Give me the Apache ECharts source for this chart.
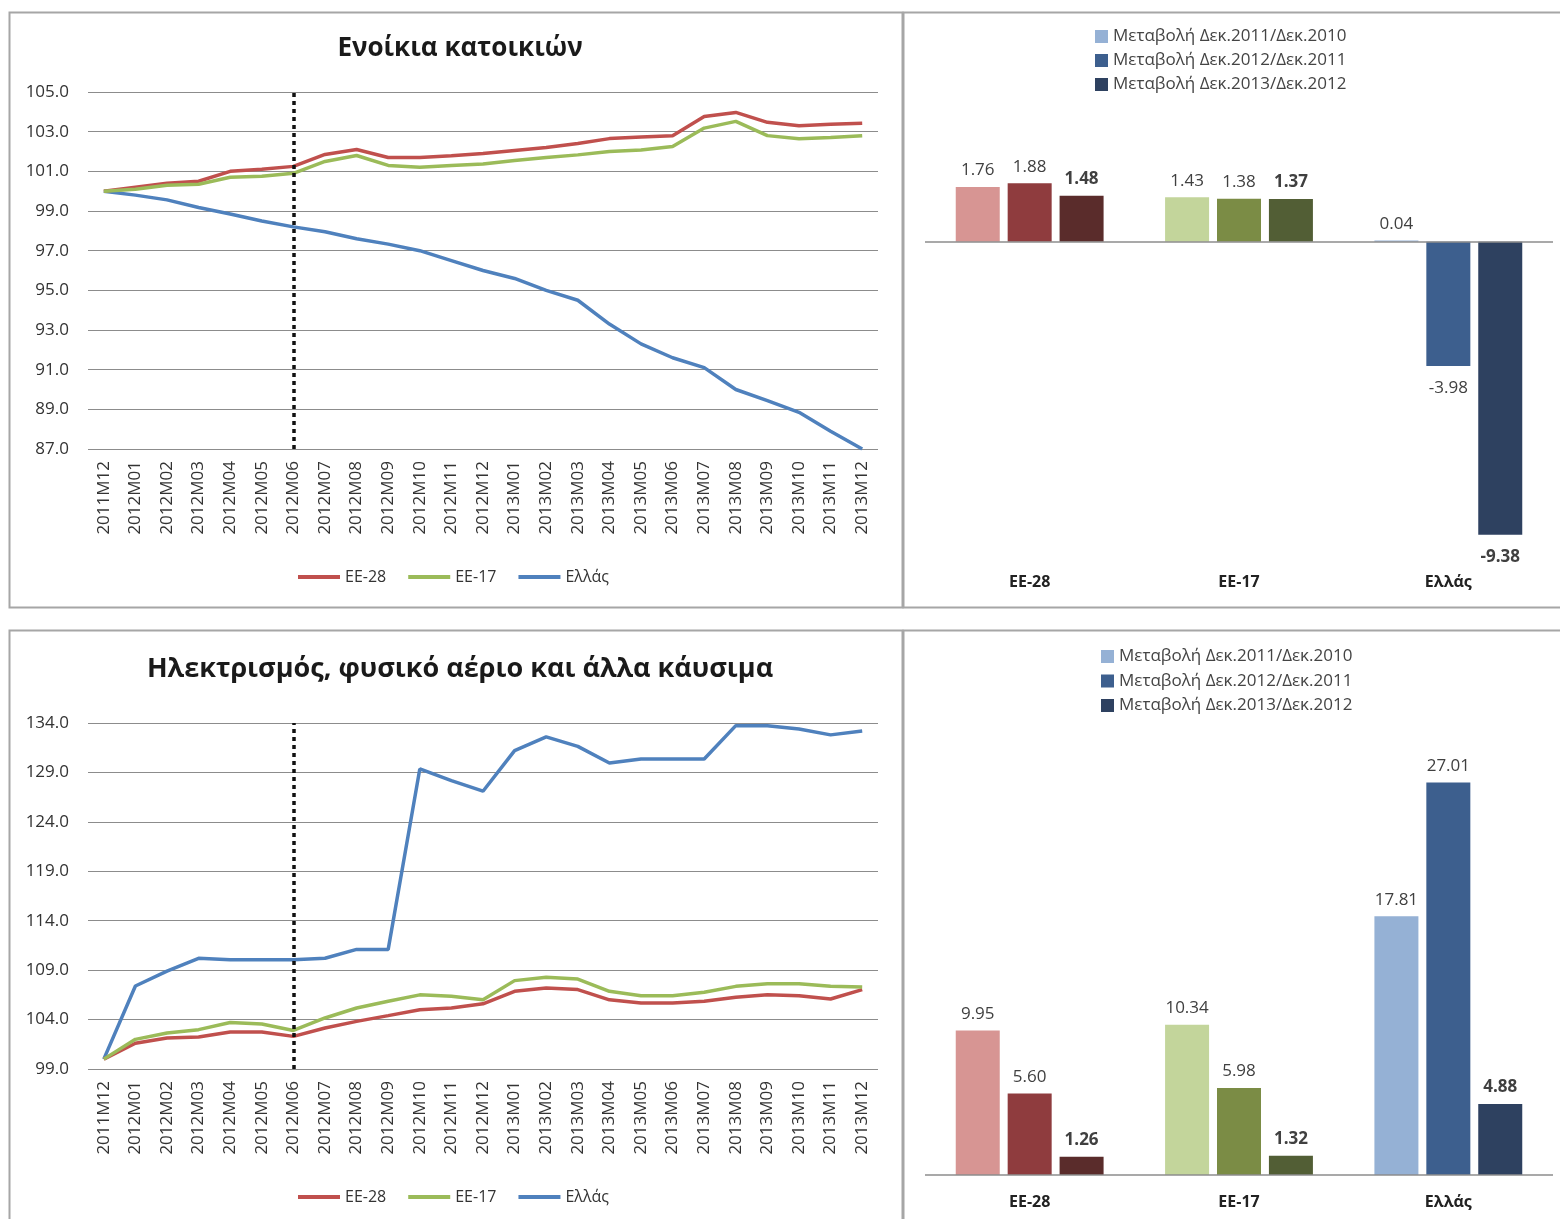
<!DOCTYPE html>
<html>
<head>
<meta charset="utf-8">
<script src="https://cdn.jsdelivr.net/npm/echarts@6/dist/echarts.min.js"></script>
<style>
  html, body { margin: 0; padding: 0; background: #fff; }
  #main { width: 1560px; height: 1219px; }
</style>
</head>
<body>
<div id="main"></div>
<script>
// μήνες
var months = ['2011M12','2012M01','2012M02','2012M03','2012M04','2012M05','2012M06','2012M07','2012M08','2012M09','2012M10','2012M11','2012M12',
  '2013M01','2013M02','2013M03','2013M04','2013M05','2013M06','2013M07','2013M08','2013M09','2013M10','2013M11','2013M12'];

// Ενοίκια κατοικιών
var rentEU28 = [100.0,100.2,100.4,100.5,101.0,101.1,101.25,101.85,102.1,101.7,101.7,101.78,101.9,102.05,102.2,102.4,102.65,102.73,102.8,103.77,103.97,103.47,103.3,103.38,103.43];
var rentEU17 = [100.0,100.1,100.3,100.35,100.7,100.75,100.9,101.5,101.8,101.3,101.2,101.3,101.37,101.55,101.7,101.83,102.0,102.08,102.25,103.18,103.52,102.8,102.64,102.7,102.8];
var rentGR   = [100.0,99.8,99.56,99.18,98.85,98.5,98.2,97.95,97.6,97.33,97.0,96.5,96.0,95.6,95.0,94.5,93.3,92.3,91.6,91.1,90.0,89.44,88.85,87.9,87.0];

// Ηλεκτρισμός, φυσικό αέριο και άλλα καύσιμα
var fuelEU28 = [100.0,101.6,102.14,102.24,102.75,102.75,102.3,103.15,103.82,104.4,105.0,105.17,105.6,106.86,107.2,107.03,106.0,105.68,105.68,105.85,106.25,106.5,106.42,106.08,107.03];
var fuelEU17 = [100.0,102.0,102.65,102.98,103.7,103.55,102.9,104.16,105.17,105.85,106.5,106.35,106.0,107.94,108.27,108.1,106.86,106.42,106.42,106.76,107.36,107.63,107.63,107.36,107.3];
var fuelGR   = [100.0,107.4,108.9,110.2,110.06,110.06,110.06,110.2,111.1,111.1,129.35,128.17,127.1,131.2,132.6,131.64,129.95,130.36,130.36,130.36,133.73,133.73,133.4,132.8,133.2];

// μεταβολές (ΕΕ-28, ΕΕ-17, Ελλάς)
var areas = ['ΕΕ-28','ΕΕ-17','Ελλάς'];
var periods = ['Μεταβολή Δεκ.2011/Δεκ.2010','Μεταβολή Δεκ.2012/Δεκ.2011','Μεταβολή Δεκ.2013/Δεκ.2012'];
var rentChange = [[1.76,1.43,0.04],[1.88,1.38,-3.98],[1.48,1.37,-9.38]];
var fuelChange = [[9.95,10.34,17.81],[5.60,5.98,27.01],[1.26,1.32,4.88]];

var lineNames = ['ΕΕ-28','ΕΕ-17','Ελλάς'];
var lineColors = ['#C0504D','#9BBB59','#4F81BD'];
var barColors = [
  ['#D79593','#C3D59B','#95B1D5'],
  ['#8F3C3E','#7B8C45','#3D5F8E'],
  ['#5A2C2B','#525E35','#2E4160']
];
var legendColors = ['#95B1D5','#3D5F8E','#2E4160'];
var FONT = 'Open Sans';

var myChart = echarts.init(document.getElementById('main'));

function lineX(i){
  return {
    gridIndex: i, type: 'category', data: months, boundaryGap: true,
    axisLine: {show: false}, axisTick: {show: false},
    axisLabel: {rotate: 90, interval: 0, margin: 12, fontSize: 17, color: '#333', fontFamily: FONT}
  };
}
function lineY(i, min, max, step){
  return {
    gridIndex: i, type: 'value', min: min, max: max, interval: step,
    axisLine: {show: false}, axisTick: {show: false},
    axisLabel: {fontSize: 17, color: '#333', margin: 19, fontFamily: FONT, formatter: function(v){ return v.toFixed(1); }},
    splitLine: {lineStyle: {color: '#8c8c8c', width: 1}}
  };
}
function barX(i, margin){
  return {
    gridIndex: i, type: 'category', data: areas,
    axisLine: {show: false, onZero: false}, axisTick: {show: false},
    axisLabel: {fontSize: 16, fontWeight: 'bold', color: '#222', margin: margin, fontFamily: FONT}
  };
}
function barY(i, min, max){
  return {gridIndex: i, type: 'value', min: min, max: max, show: false, splitLine: {show: false}};
}

var series = [];
function addLines(idx, arrs){
  arrs.forEach(function(d, k){
    var s = {
      name: lineNames[k], type: 'line', xAxisIndex: idx, yAxisIndex: idx, data: d,
      symbol: 'none', lineStyle: {width: 3.5, color: lineColors[k]}, itemStyle: {color: lineColors[k]},
      z: 3 + (k === 2 ? 0 : 1)
    };
    if (k === 0) {
      s.markLine = {
        silent: true, symbol: 'none', label: {show: false},
        lineStyle: {color: '#111', type: [4, 4], width: 3.5},
        data: [{xAxis: '2012M06'}]
      };
    }
    series.push(s);
  });
}
function addBars(idx, vals){
  vals.forEach(function(row, k){
    var s = {
      name: periods[k], type: 'bar', xAxisIndex: idx, yAxisIndex: idx,
      barWidth: 44, barGap: '18%',
      itemStyle: {color: legendColors[k]},
      data: row.map(function(v, j){
        return {
          value: v,
          itemStyle: {color: barColors[k][j]},
          label: {position: v < 0 ? 'bottom' : 'top', distance: v < 0 ? 14 : 8}
        };
      }),
      label: {
        show: true, fontSize: 17, color: '#404040', fontFamily: FONT,
        fontWeight: k === 2 ? 'bold' : 'normal',
        formatter: function(p){ return p.value.toFixed(2); }
      }
    };
    if (k === 0) {
      s.markLine = {
        silent: true, symbol: 'none', label: {show: false},
        lineStyle: {color: '#8c8c8c', type: 'solid', width: 1.5},
        data: [{yAxis: 0}]
      };
    }
    series.push(s);
  });
}

addLines(0, [rentEU28, rentEU17, rentGR]);
addBars(1, rentChange);
addLines(2, [fuelEU28, fuelEU17, fuelGR]);
addBars(3, fuelChange);

var option = {
  animation: false,
  backgroundColor: '#fff',
  textStyle: {fontFamily: FONT},
  title: [
    {text: 'Ενοίκια κατοικιών', left: 455, top: 31, textAlign: 'center',
     textStyle: {fontSize: 26, fontWeight: 'bold', color: '#1a1a1a', fontFamily: FONT}},
    {text: 'Ηλεκτρισμός, φυσικό αέριο και άλλα κάυσιμα', left: 455, top: 651, textAlign: 'center',
     textStyle: {fontSize: 27, fontWeight: 'bold', color: '#1a1a1a', fontFamily: FONT}}
  ],
  legend: [
    {data: lineNames, left: 293, top: 564, icon: 'rect', itemWidth: 42, itemHeight: 4, itemGap: 22,
     textStyle: {fontSize: 16, color: '#333', fontFamily: FONT}},
    {data: lineNames, left: 293, top: 1184, icon: 'rect', itemWidth: 42, itemHeight: 4, itemGap: 22,
     textStyle: {fontSize: 16, color: '#333', fontFamily: FONT}},
    {data: periods, left: 1090, top: 23, orient: 'vertical', icon: 'rect', itemWidth: 13, itemHeight: 13, itemGap: 7,
     textStyle: {fontSize: 17, color: '#444', fontFamily: FONT}},
    {data: periods, left: 1096, top: 643, orient: 'vertical', icon: 'rect', itemWidth: 13, itemHeight: 13, itemGap: 7.5,
     textStyle: {fontSize: 17, color: '#444', fontFamily: FONT}}
  ],
  grid: [
    {left: 88, right: 682, top: 92, bottom: 770},
    {left: 925, right: 7, top: 117, bottom: 665},
    {left: 88, right: 682, top: 723, bottom: 150},
    {left: 925, right: 7, top: 739, bottom: 44}
  ],
  xAxis: [lineX(0), barX(1, 20), lineX(2), barX(3, 19)],
  yAxis: [lineY(0, 87, 105, 2), barY(1, -10, 4), lineY(2, 99, 134, 5), barY(3, 0, 30)],
  graphic: [
    {type: 'rect', shape: {x: 9.5, y: 12.5, width: 893, height: 595}, style: {fill: 'none', stroke: '#a6a6a6', lineWidth: 2}},
    {type: 'rect', shape: {x: 903.5, y: 12.5, width: 700, height: 595}, style: {fill: 'none', stroke: '#a6a6a6', lineWidth: 2}},
    {type: 'rect', shape: {x: 9.5, y: 630.5, width: 893, height: 640}, style: {fill: 'none', stroke: '#a6a6a6', lineWidth: 2}},
    {type: 'rect', shape: {x: 903.5, y: 630.5, width: 700, height: 640}, style: {fill: 'none', stroke: '#a6a6a6', lineWidth: 2}}
  ],
  series: series
};

myChart.setOption(option);
</script>
</body>
</html>
